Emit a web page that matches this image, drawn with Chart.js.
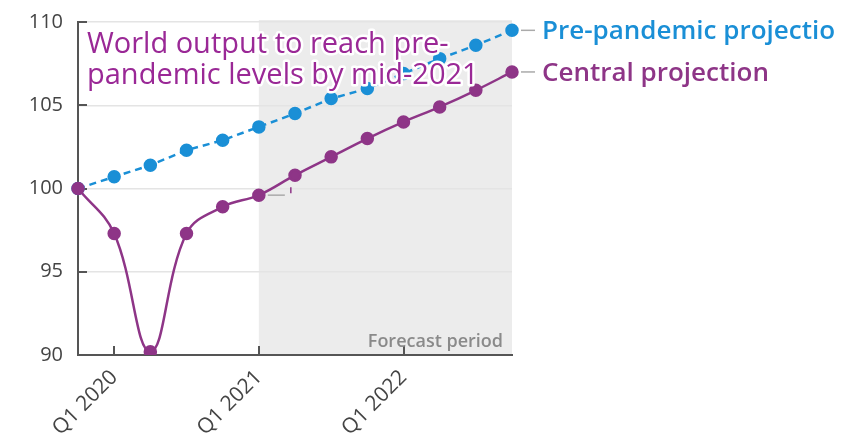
<!DOCTYPE html>
<html>
<head>
<meta charset="utf-8">
<script src="https://cdn.jsdelivr.net/npm/chart.js@4"></script>
<style>
html,body{margin:0;padding:0;background:#fff;}
#wrap{width:864px;height:434px;}
</style>
</head>
<body>
<div id="wrap"><canvas id="c" width="864" height="434"></canvas></div>
<script>
const quarters = ["Q4 2019","Q1 2020","Q2 2020","Q3 2020","Q4 2020","Q1 2021","Q2 2021","Q3 2021","Q4 2021","Q1 2022","Q2 2022","Q3 2022","Q4 2022"];
const centralProjection = [100, 97.3, 90.2, 97.3, 98.9, 99.6, 100.8, 101.9, 103.0, 104.0, 104.9, 105.9, 107.0];
const prePandemicProjection = [100, 100.7, 101.4, 102.3, 102.9, 103.7, 104.5, 105.4, 106.0, 106.9, 107.8, 108.6, 109.5];
const yTicks = [90, 95, 100, 105, 110];
const forecastStart = "Q1 2021";
const titleLines = ["World output to reach pre-", "pandemic levels by mid-2021"];
const seriesLabels = ["Central projection", "Pre-pandemic projectio"];
const forecastLabel = "Forecast period";

const PURPLE = "#8e3587";
const BLUE = "#1a8fd6";
const TITLE = "#9a2896";
const AXIS = "#555555";
const FONT = "'Open Sans', 'Noto Sans', sans-serif";

const decor = {
  id: "decor",
  beforeDraw(chart) {
    const {ctx, chartArea, scales} = chart;
    const x0 = scales.x.getPixelForValue(quarters.indexOf(forecastStart));
    ctx.save();
    ctx.fillStyle = "#ececec";
    ctx.fillRect(x0, chartArea.top - 2, chartArea.right - x0, chartArea.bottom - chartArea.top + 2);
    ctx.restore();
  },
  beforeDatasetsDraw(chart) {
    const {ctx, chartArea, scales} = chart;
    ctx.save();
    ctx.strokeStyle = AXIS;
    ctx.lineWidth = 2;
    yTicks.forEach(v => {
      const y = Math.round(scales.y.getPixelForValue(v));
      ctx.beginPath();
      ctx.moveTo(chartArea.left, y);
      ctx.lineTo(chartArea.left + 9, y);
      ctx.stroke();
    });
    quarters.forEach((q, i) => {
      if (q.startsWith("Q1")) {
        const x = Math.round(scales.x.getPixelForValue(i));
        ctx.beginPath();
        ctx.moveTo(x, chartArea.bottom);
        ctx.lineTo(x, chartArea.bottom - 9);
        ctx.stroke();
      }
    });
    ctx.font = "600 18px " + FONT;
    ctx.fillStyle = "#8a8a8a";
    ctx.textAlign = "right";
    ctx.textBaseline = "alphabetic";
    ctx.fillText(forecastLabel, chartArea.right - 9, chartArea.bottom - 8);
    const fi = quarters.indexOf(forecastStart);
    const px = scales.x.getPixelForValue(fi);
    const py = scales.y.getPixelForValue(centralProjection[fi]);
    ctx.strokeStyle = "#aaaaaa";
    ctx.lineWidth = 1.5;
    ctx.beginPath();
    ctx.moveTo(px + 9, py);
    ctx.lineTo(px + 26, py);
    ctx.stroke();
    ctx.strokeStyle = PURPLE;
    ctx.beginPath();
    ctx.moveTo(px + 32, py - 8);
    ctx.lineTo(px + 32, py - 2);
    ctx.stroke();
    ctx.restore();
  },
  afterDatasetsDraw(chart) {
    const {ctx, chartArea, scales} = chart;
    ctx.save();
    ctx.font = "500 29px " + FONT;
    ctx.textAlign = "left";
    ctx.textBaseline = "alphabetic";
    ctx.lineJoin = "round";
    titleLines.forEach((t, i) => {
      const x = chartArea.left + 9;
      const y = chartArea.top + 31 + i * 31;
      ctx.strokeStyle = "#ffffff";
      ctx.lineWidth = 5;
      ctx.strokeText(t, x, y);
      ctx.fillStyle = TITLE;
      ctx.fillText(t, x, y);
    });
    const last = quarters.length - 1;
    const lx = scales.x.getPixelForValue(last);
    const ends = [
      {v: prePandemicProjection[last], label: seriesLabels[1], color: BLUE},
      {v: centralProjection[last], label: seriesLabels[0], color: PURPLE}
    ];
    ctx.font = "600 26px " + FONT;
    ends.forEach(e => {
      const y = scales.y.getPixelForValue(e.v);
      ctx.strokeStyle = "#aaaaaa";
      ctx.lineWidth = 1.5;
      ctx.beginPath();
      ctx.moveTo(lx + 9, y);
      ctx.lineTo(lx + 23, y);
      ctx.stroke();
      ctx.fillStyle = e.color;
      ctx.fillText(e.label, lx + 30, y + 9);
    });
    ctx.restore();
  }
};

new Chart(document.getElementById("c"), {
  type: "line",
  data: {
    labels: quarters,
    datasets: [
      {
        label: seriesLabels[0],
        data: centralProjection,
        borderColor: PURPLE,
        backgroundColor: PURPLE,
        borderWidth: 2.5,
        pointRadius: 5.5,
        pointHoverRadius: 5.5,
        tension: 0.4,
        order: 0
      },
      {
        label: seriesLabels[1],
        data: prePandemicProjection,
        borderColor: BLUE,
        backgroundColor: BLUE,
        borderWidth: 2.5,
        borderDash: [7, 5],
        pointRadius: 5.5,
        pointHoverRadius: 5.5,
        tension: 0,
        order: 1
      }
    ]
  },
  options: {
    responsive: false,
    animation: false,
    events: [],
    layout: {padding: {top: 19, right: 352, left: 0, bottom: 0}},
    plugins: {legend: {display: false}, tooltip: {enabled: false}, title: {display: false}},
    scales: {
      x: {
        type: "category",
        offset: false,
        grid: {display: false, drawTicks: false},
        border: {display: true, color: AXIS, width: 2},
        ticks: {
          autoSkip: false,
          maxRotation: 45,
          minRotation: 45,
          padding: 10,
          color: "#444",
          font: {family: FONT, size: 21, weight: "500"},
          callback: function(v, i) { const l = quarters[i]; return l.startsWith("Q1") ? l : ""; }
        },
        afterFit(s) { s.height = 79; }
      },
      y: {
        min: 90,
        max: 110,
        afterBuildTicks(s) { s.ticks = yTicks.map(v => ({value: v})); },
        grid: {color: "#e4e4e4", lineWidth: 1.5, drawTicks: false},
        border: {display: true, color: AXIS, width: 2},
        ticks: {
          padding: 15,
          color: "#444",
          font: {family: FONT, size: 20, weight: "500", lineHeight: 0.7}
        },
        afterFit(s) { s.width = 78; }
      }
    }
  },
  plugins: [decor]
});
</script>
</body>
</html>
